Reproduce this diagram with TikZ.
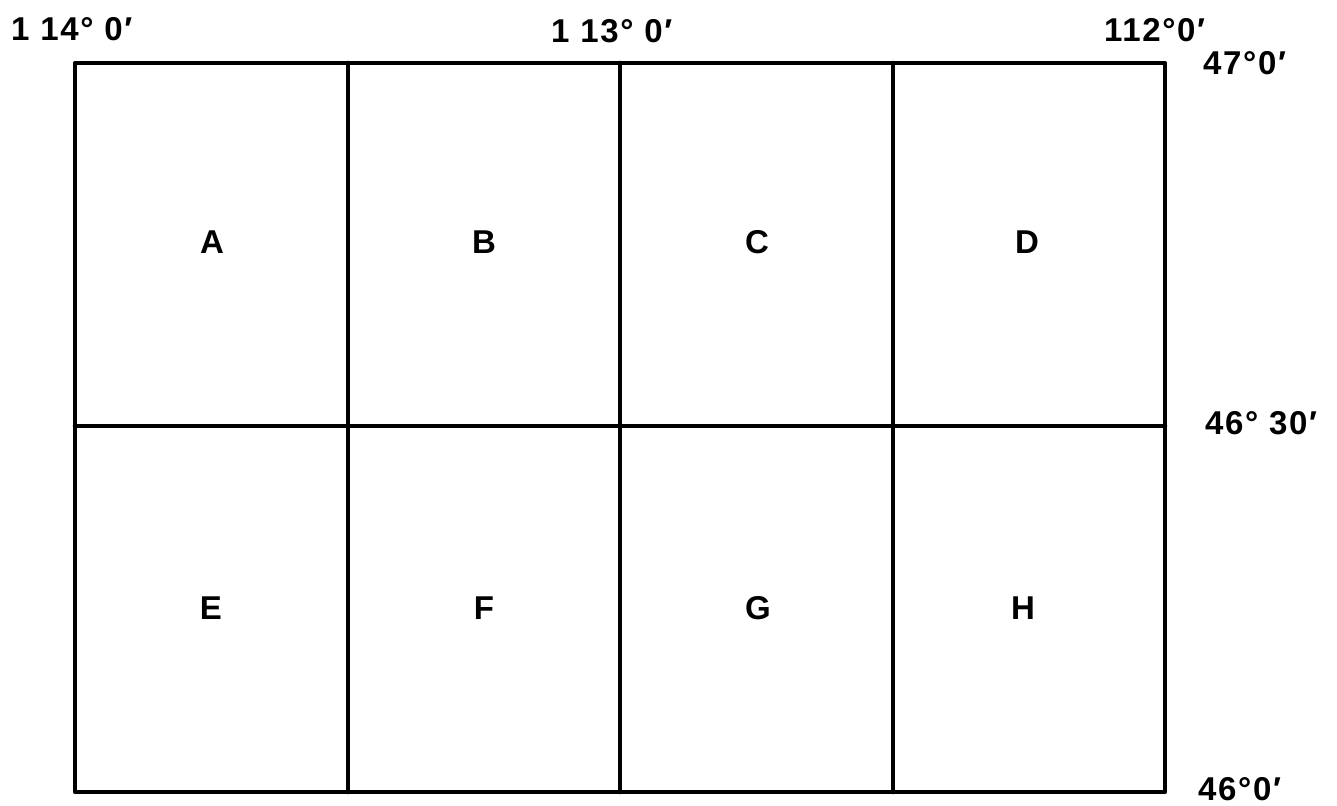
\documentclass[tikz,border=0pt]{standalone}
\usepackage{fontspec}
\setmainfont{Liberation Sans}[LetterSpace=5]
\begin{document}
\begin{tikzpicture}[x=1pt,y=-1pt,
  gridline/.style={line width=4.6pt, line cap=round, line join=round},
  cell/.style={font=\fontsize{33}{38}\selectfont\bfseries, inner sep=0pt},
  coord/.style={font=\fontsize{33}{38}\selectfont\bfseries, inner sep=0pt, anchor=base west}]
\useasboundingbox (0,0) rectangle (1337,805);
% grid
\coordinate (tl) at (75,63);
\coordinate (br) at (1165,792);
\draw[gridline] (tl) rectangle (br);
\draw[gridline] (348,63) -- (348,792);
\draw[gridline] (620,63) -- (620,792);
\draw[gridline] (893,63) -- (893,792);
\draw[gridline] (75,426) -- (1165,426);
% cell letters
\node[cell] (A) at (212,242) {A};
\node[cell] (B) at (484,242) {B};
\node[cell] (C) at (757,242) {C};
\node[cell] (D) at (1027,242) {D};
\node[cell] (E) at (211,608) {E};
\node[cell] (F) at (484,608) {F};
\node[cell] (G) at (758,608) {G};
\node[cell] (H) at (1023,608) {H};
% coordinate labels
\node[coord] (l114) at (11,41) {1 14° 0′};
\node[coord] (l113) at (551,43) {1 13° 0′};
\node[coord] (l112) at (1104,42) {112°0′};
\node[coord] (l47) at (1203,75) {47°0′};
\node[coord] (l4630) at (1205,434) {46° 30′};
\node[coord] (l46) at (1198,800) {46°0′};
\end{tikzpicture}
\end{document}
